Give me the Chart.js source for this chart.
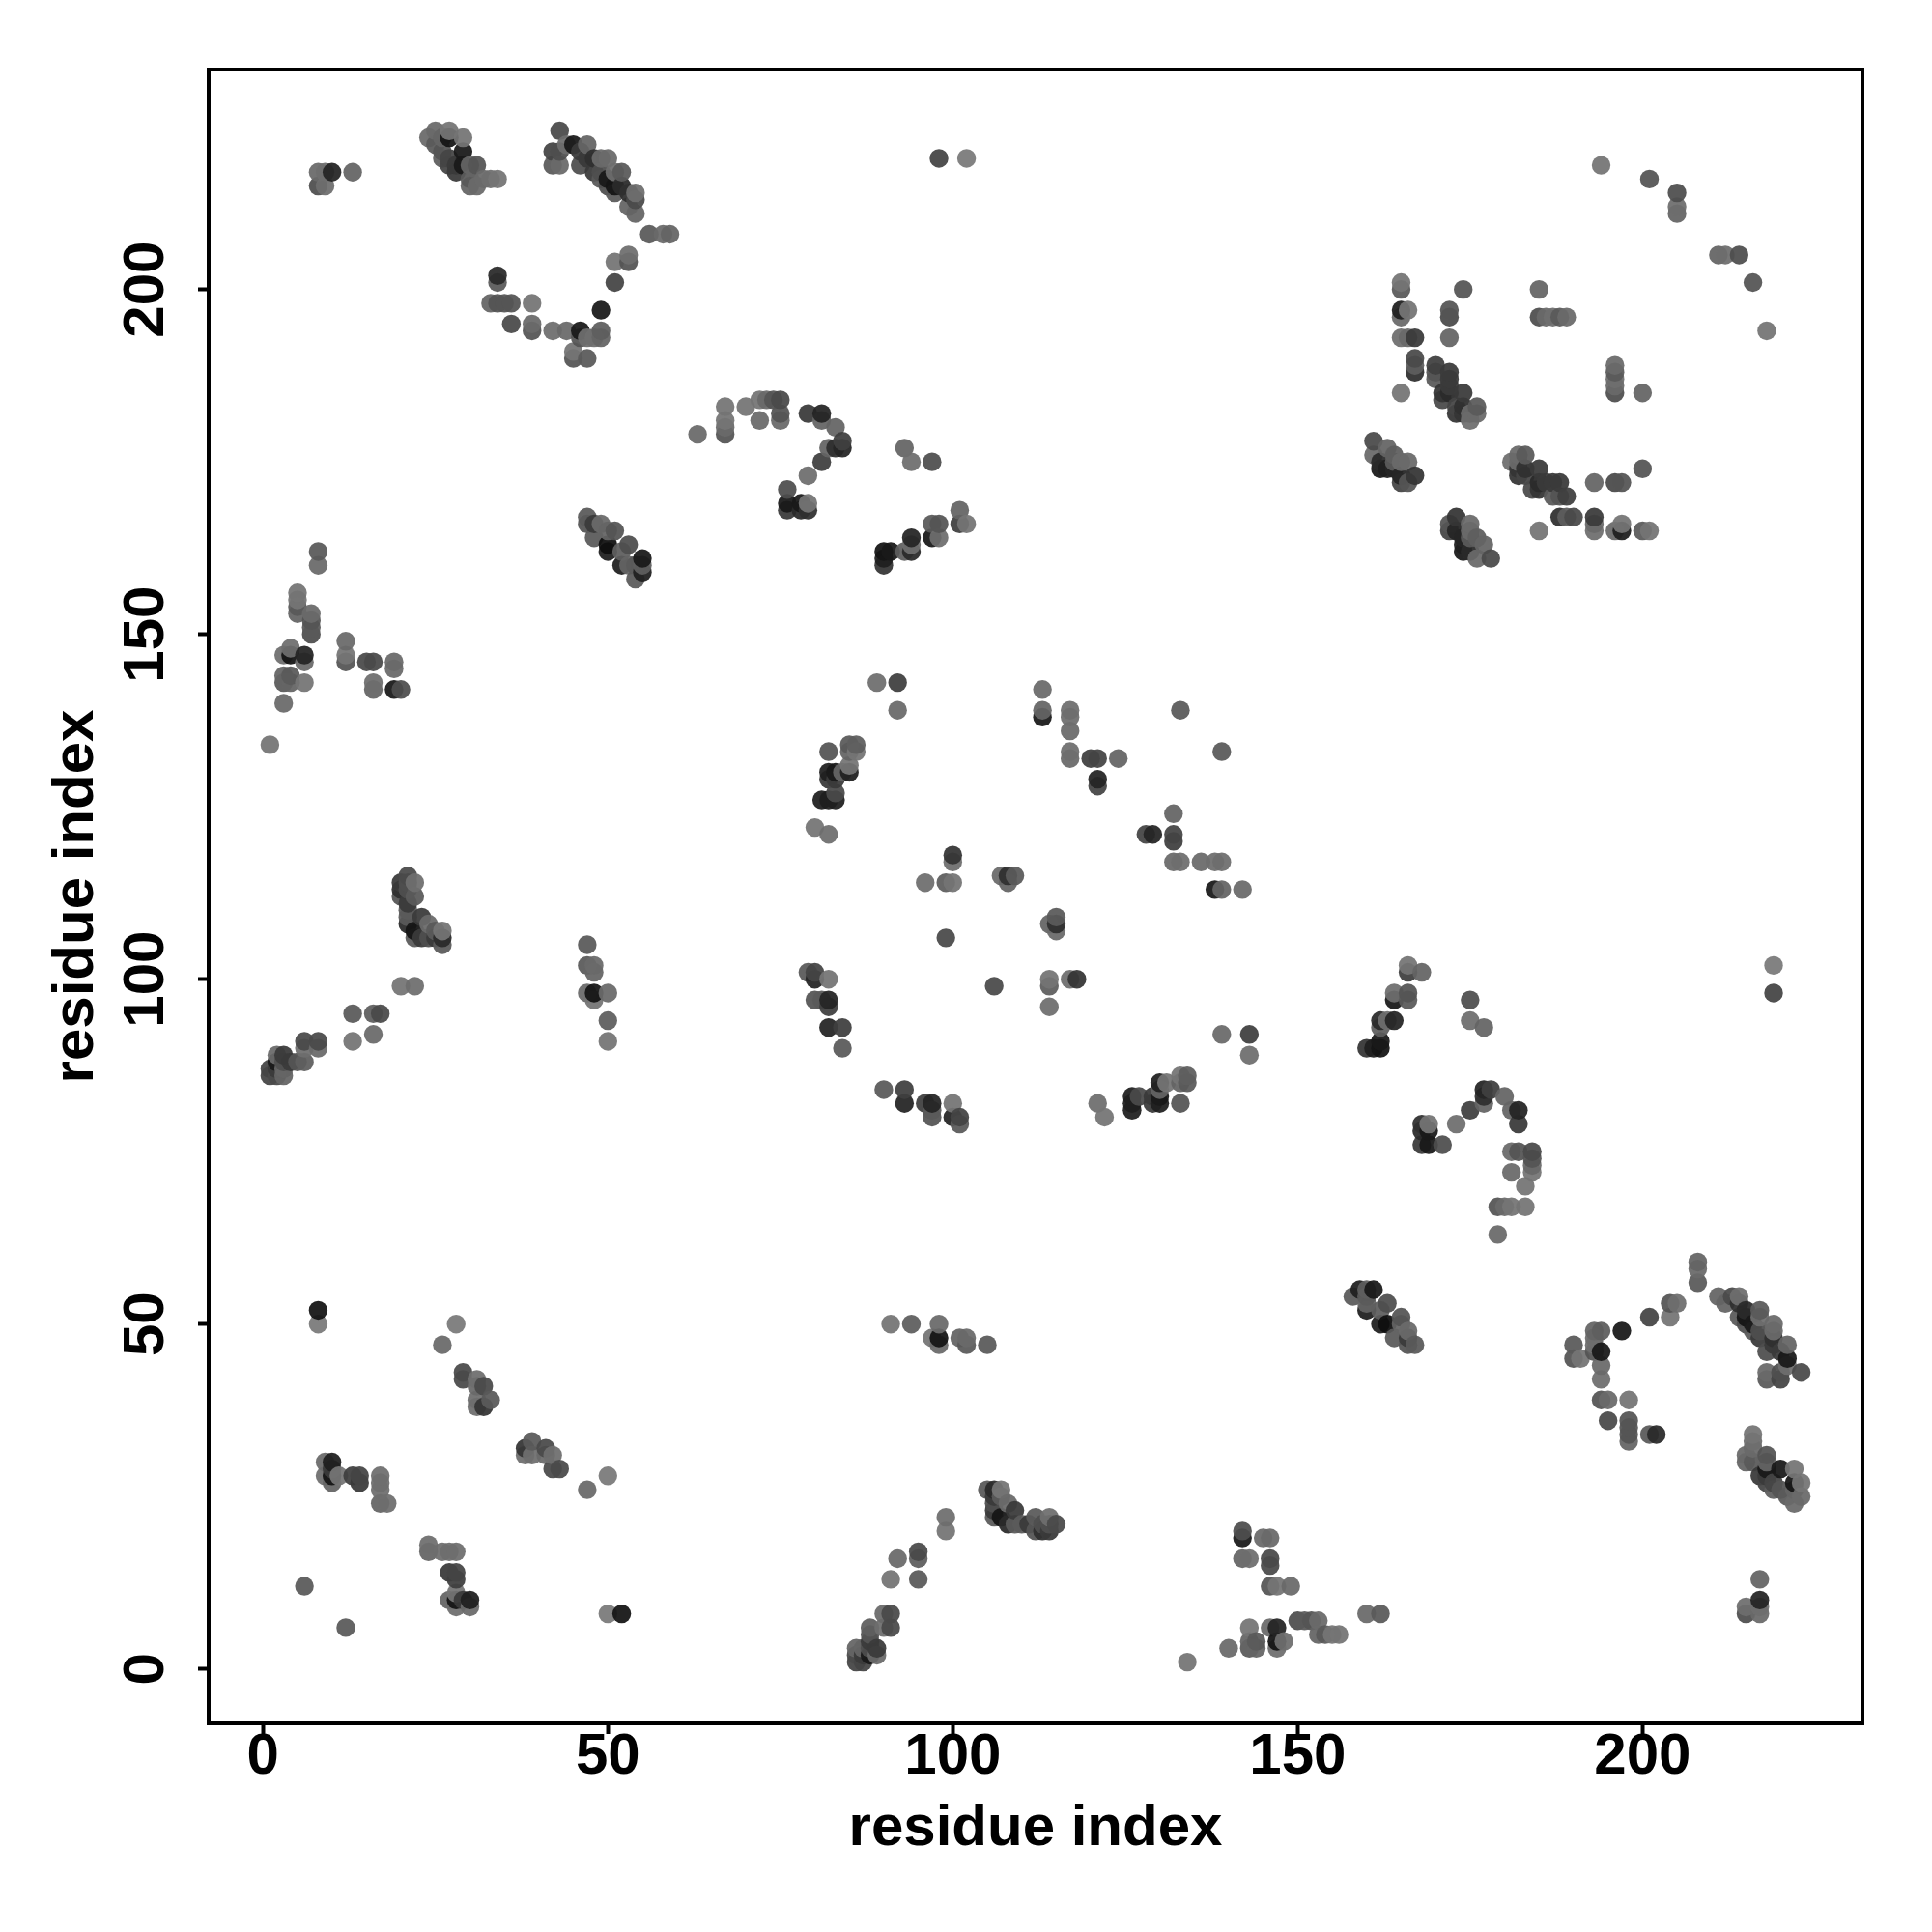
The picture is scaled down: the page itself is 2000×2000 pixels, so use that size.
<!DOCTYPE html>
<html>
<head>
<meta charset="utf-8">
<title>residue contact map</title>
<script src="https://cdn.jsdelivr.net/npm/chart.js@4"></script>
<style>
  html, body { margin: 0; padding: 0; background: #fff; }
  canvas { display: block; }
</style>
</head>
<body>
<canvas id="contactMap" width="2000" height="2000"></canvas>
<script>
// contacts, one line per group of points
const upperX = [
  1,3,3,3,3,4,4,4,4,5,5,5,5,6,6,6,7,7,7,7,8,8,12,12,12,15,16,16,16,19,19,19,20,
  8,8,9,9,10,13,
  24,25,25,26,26,26,27,27,27,27,28,28,29,29,29,30,30,30,31,31,32,33,34,
  42,42,43,43,43,44,45,46,46,47,47,48,48,49,49,49,50,50,50,51,51,51,52,52,53,53,54,54,54,
  33,34,34,34,35,36,36,39,39,39,42,44,45,45,46,46,47,47,48,49,49,49,51,51,53,53,56,58,59,
  47,47,48,48,49,50,50,50,51,52,52,53,53,54,54,55,55,55,
  63,67,67,67,67,70,72,72,73,74,75,75,75,76,76,76,78,78,79,79,79,79,81,81,81,82,83,83,84,84,90,90,90,91,93,93,94,94,94,94,97,97,97,98,98,98,101,101,102,102,
  1,1,2,2,2,2,3,3,3,3,4,5,6,6,6,8,8,13,13,16,16,17,20,22,
  20,20,20,21,21,21,21,21,21,21,22,22,22,22,23,23,24,24,25,25,26,26,26,
  47,47,47,48,48,48,48,50,50,50,
  79,80,80,80,80,81,81,82,82,82,82,82,82,82,82,82,83,83,83,83,84,84,84,85,85,85,85,86,86,89,92,92,96,99,99,100,100,100,107,108,108,109,113,113,113,117,117,117,117,117,120,121,121,121,124,133,
  6,8,8,9,9,10,10,10,10,11,13,14,14,17,17,17,17,18,26,28,29,29,31,31,31,31,32,32,33,
  161,161,162,162,163,163,164,164,164,165,165,165,166,166,167,
  165,165,165,165,165,165,166,166,167,167,167,167,170,170,170,171,171,172,172,172,172,172,172,172,173,173,174,174,174,174,175,175,176,176,185,185,186,187,188,189,194,201,205,205,205
];
const upperY = [
  134,140,143,144,147,143,144,147,148,153,154,155,156,143,146,147,150,151,152,153,160,162,146,147,149,146,142,143,146,142,145,146,142,
  215,217,215,217,217,217,
  222,221,223,219,220,222,218,219,222,223,217,218,218,220,222,215,216,218,215,218,216,216,216,
  218,220,218,220,223,221,221,218,220,219,221,217,219,216,217,219,215,216,219,214,215,217,215,217,212,214,211,213,214,
  198,198,201,202,198,195,198,194,195,198,194,194,190,191,193,194,190,193,193,193,194,197,201,204,204,205,208,208,208,
  166,167,164,166,166,162,163,165,165,160,162,160,163,158,160,159,160,161,
  179,179,180,181,183,183,181,184,184,184,181,182,184,168,169,171,168,169,168,169,173,182,175,181,182,177,177,180,177,178,160,161,162,162,162,177,162,163,164,175,164,166,175,164,166,219,166,168,166,219,
  86,87,86,87,88,89,86,87,88,89,88,88,88,90,91,90,91,91,95,92,95,95,99,99,
  112,113,114,108,109,110,111,113,114,115,106,107,112,114,106,109,106,108,106,107,105,106,107,
  98,102,105,97,98,101,102,91,94,98,
  101,97,100,101,122,97,126,93,96,97,100,121,126,129,130,133,126,127,129,130,90,93,130,130,131,133,134,133,134,143,139,143,114,106,114,114,117,118,115,114,115,115,138,139,142,132,133,136,138,139,132,128,129,132,132,139,
  12,50,52,28,30,27,28,29,30,28,28,27,28,24,26,27,28,24,47,50,42,43,38,39,41,42,38,41,39,
  176,178,174,175,174,177,174,175,176,172,173,175,172,175,173,
  185,193,196,197,200,201,193,197,188,189,190,193,187,188,189,184,185,185,186,187,188,193,196,197,182,183,182,183,185,200,181,182,182,183,196,200,196,196,196,196,218,216,211,212,214
];
const upperShade = [
  115,105,90,100,110,100,90,25,110,100,90,115,115,115,105,40,80,90,85,105,105,90,85,115,105,75,100,110,75,30,105,105,80,
  80,105,110,110,40,100,
  105,90,105,95,85,100,70,70,25,115,60,60,30,30,115,100,90,100,105,85,105,110,115,
  90,70,105,80,75,110,30,80,60,60,100,60,50,90,80,105,80,30,105,90,25,110,45,90,100,50,100,75,110,
  100,85,90,45,85,75,85,85,105,115,110,105,85,115,85,30,90,110,110,100,95,30,70,115,85,110,90,105,100,
  85,90,90,60,105,35,20,100,85,35,95,100,80,90,90,35,95,30,
  105,85,105,115,115,115,105,115,105,85,105,85,75,60,30,80,45,30,50,115,110,60,65,100,40,100,50,100,40,65,55,35,25,30,95,100,45,110,40,110,30,90,80,110,85,70,65,100,115,120,
  70,70,75,60,30,105,100,100,80,60,60,85,95,110,75,105,75,115,90,105,95,75,115,110,
  85,50,60,45,90,90,60,80,80,75,90,25,90,110,60,60,80,105,60,90,90,45,115,
  105,90,90,115,25,100,105,115,95,105,
  90,85,40,70,115,90,35,40,65,40,115,110,35,60,35,85,35,75,60,30,90,65,100,35,115,100,90,115,95,110,105,65,110,75,95,115,110,55,105,100,50,90,30,100,105,105,110,105,110,110,65,70,40,70,100,90,
  90,120,25,110,105,100,25,60,35,115,65,60,70,100,110,110,110,110,105,120,75,75,110,110,105,110,55,75,90,
  105,75,30,45,35,100,40,90,95,70,40,105,85,105,55,
  115,110,105,35,90,115,105,115,50,95,75,60,90,85,65,75,55,45,60,60,60,100,75,85,55,70,55,50,60,85,110,105,105,90,80,100,105,110,90,105,115,85,100,110,80
];
const lowerX = [
  134,140,143,144,147,143,144,147,148,153,154,155,156,143,146,147,150,151,152,153,160,162,146,147,149,146,142,143,146,142,145,146,142,
  215,217,215,217,217,217,
  222,221,223,219,220,222,218,219,222,223,217,218,218,220,222,215,216,218,215,218,216,216,216,
  218,220,218,220,223,221,221,218,220,219,221,217,219,216,217,219,215,216,219,214,215,217,215,217,212,214,211,213,214,
  198,198,201,202,198,195,198,194,195,198,194,194,190,191,193,194,190,193,193,193,194,197,201,204,204,205,208,208,208,
  166,167,164,166,166,162,163,165,165,160,162,160,163,158,160,159,160,161,
  179,179,180,181,183,183,181,184,184,184,181,182,184,168,169,171,168,169,168,169,173,182,175,181,182,177,177,180,177,178,160,161,162,162,162,177,162,163,164,175,164,166,175,164,166,219,166,168,166,219,
  86,87,86,87,88,89,86,87,88,89,88,88,88,90,91,90,91,91,95,92,95,95,99,99,
  112,113,114,108,109,110,111,113,114,115,106,107,112,114,106,109,106,108,106,107,105,106,107,
  98,102,105,97,98,101,102,91,94,98,
  101,97,100,101,122,97,126,93,96,97,100,121,126,129,130,133,126,127,129,130,90,93,130,130,131,133,134,133,134,143,139,143,114,106,114,114,117,118,115,114,115,115,138,139,142,132,133,136,138,139,132,128,129,132,132,139,
  12,50,52,28,30,27,28,29,30,28,28,27,28,24,26,27,28,24,47,50,42,43,38,39,41,42,38,41,39,
  176,178,174,175,174,177,174,175,176,172,173,175,172,175,173,
  185,193,196,197,200,201,193,197,188,189,190,193,187,188,189,184,185,185,186,187,188,193,196,197,182,183,182,183,185,200,181,182,182,183,196,200,196,196,196,196,218,216,211,212,214
];
const lowerY = [
  1,3,3,3,3,4,4,4,4,5,5,5,5,6,6,6,7,7,7,7,8,8,12,12,12,15,16,16,16,19,19,19,20,
  8,8,9,9,10,13,
  24,25,25,26,26,26,27,27,27,27,28,28,29,29,29,30,30,30,31,31,32,33,34,
  42,42,43,43,43,44,45,46,46,47,47,48,48,49,49,49,50,50,50,51,51,51,52,52,53,53,54,54,54,
  33,34,34,34,35,36,36,39,39,39,42,44,45,45,46,46,47,47,48,49,49,49,51,51,53,53,56,58,59,
  47,47,48,48,49,50,50,50,51,52,52,53,53,54,54,55,55,55,
  63,67,67,67,67,70,72,72,73,74,75,75,75,76,76,76,78,78,79,79,79,79,81,81,81,82,83,83,84,84,90,90,90,91,93,93,94,94,94,94,97,97,97,98,98,98,101,101,102,102,
  1,1,2,2,2,2,3,3,3,3,4,5,6,6,6,8,8,13,13,16,16,17,20,22,
  20,20,20,21,21,21,21,21,21,21,22,22,22,22,23,23,24,24,25,25,26,26,26,
  47,47,47,48,48,48,48,50,50,50,
  79,80,80,80,80,81,81,82,82,82,82,82,82,82,82,82,83,83,83,83,84,84,84,85,85,85,85,86,86,89,92,92,96,99,99,100,100,100,107,108,108,109,113,113,113,117,117,117,117,117,120,121,121,121,124,133,
  6,8,8,9,9,10,10,10,10,11,13,14,14,17,17,17,17,18,26,28,29,29,31,31,31,31,32,32,33,
  161,161,162,162,163,163,164,164,164,165,165,165,166,166,167,
  165,165,165,165,165,165,166,166,167,167,167,167,170,170,170,171,171,172,172,172,172,172,172,172,173,173,174,174,174,174,175,175,176,176,185,185,186,187,188,189,194,201,205,205,205
];
const lowerShade = [
  115,105,90,100,110,100,90,25,110,100,90,115,115,115,105,40,80,90,85,105,105,90,85,115,105,75,100,110,75,30,105,105,80,
  80,105,110,110,40,100,
  105,90,105,95,85,100,70,70,25,115,60,60,30,30,115,100,90,100,105,85,105,110,115,
  90,70,105,80,75,110,30,80,60,60,100,60,50,90,80,105,80,30,105,90,25,110,45,90,100,50,100,75,110,
  100,85,90,45,85,75,85,85,105,115,110,105,85,115,85,30,90,110,110,100,95,30,70,115,85,110,90,105,100,
  85,90,90,60,105,35,20,100,85,35,95,100,80,90,90,35,95,30,
  105,85,105,115,115,115,105,115,105,85,105,85,75,60,30,80,45,30,50,115,110,60,65,100,40,100,50,100,40,65,55,35,25,30,95,100,45,110,40,110,30,90,80,110,85,70,65,100,115,120,
  70,70,75,60,30,105,100,100,80,60,60,85,95,110,75,105,75,115,90,105,95,75,115,110,
  85,50,60,45,90,90,60,80,80,75,90,25,90,110,60,60,80,105,60,90,90,45,115,
  105,90,90,115,25,100,105,115,95,105,
  90,85,40,70,115,90,35,40,65,40,115,110,35,60,35,85,35,75,60,30,90,65,100,35,115,100,90,115,95,110,105,65,110,75,95,115,110,55,105,100,50,90,30,100,105,105,110,105,110,110,65,70,40,70,100,90,
  90,120,25,110,105,100,25,60,35,115,65,60,70,100,110,110,110,110,105,120,75,75,110,110,105,110,55,75,90,
  105,75,30,45,35,100,40,90,95,70,40,105,85,105,55,
  115,110,105,35,90,115,105,115,50,95,75,60,90,85,65,75,55,45,60,60,60,100,75,85,55,70,55,50,60,85,110,105,105,90,80,100,105,110,90,105,115,85,100,110,80
];
const tickValues = [0, 50, 100, 150, 200];
const axisLabel = "residue index";

// painted in residue order so later dots sit on top of earlier ones
const xs = upperX.concat(lowerX);
const ys = upperY.concat(lowerY);
const shades = upperShade.concat(lowerShade);
const order = xs.map((_, i) => i).sort((a, b) => xs[a] - xs[b] || ys[a] - ys[b]);
const points = order.map(i => ({ x: xs[i], y: ys[i] }));

// shade is the grey a lone dot shows on white; dots are slightly see-through
const dotAlpha = 0.94;
const colors = order.map(i => {
  const g = Math.max(0, Math.round((shades[i] + 10 - 255 * (1 - dotAlpha)) / dotAlpha));
  return `rgba(${g},${g},${g},${dotAlpha})`;
});

const frame = {
  id: "frame",
  afterDraw(chart) {
    const { ctx, chartArea: a } = chart;
    ctx.save();
    ctx.strokeStyle = "#000";
    ctx.lineWidth = 4;
    ctx.strokeRect(a.left, a.top, a.right - a.left, a.bottom - a.top);
    ctx.restore();
  }
};

const axisFont = { family: "'Liberation Sans'", size: 60, weight: "bold" };

function axis(size, tickPadding, titlePadding, rotation) {
  return {
    type: "linear",
    min: -7.88,
    max: 231.88,
    afterBuildTicks(scale) { scale.ticks = tickValues.map(v => ({ value: v })); },
    afterFit(scale) {
      if (scale.isHorizontal()) scale.height = size;
      else scale.width = size;
    },
    border: { display: false },
    grid: {
      drawOnChartArea: false,
      drawTicks: true,
      tickLength: 11,
      tickWidth: 4,
      tickColor: "#000"
    },
    ticks: {
      color: "#000",
      font: axisFont,
      padding: tickPadding,
      minRotation: rotation,
      maxRotation: rotation,
      crossAlign: "center",
      autoSkip: false
    },
    title: {
      display: true,
      text: axisLabel,
      color: "#000",
      font: axisFont,
      padding: titlePadding
    }
  };
}

new Chart(document.getElementById("contactMap").getContext("2d"), {
  type: "scatter",
  data: {
    datasets: [{
      data: points,
      pointBackgroundColor: colors,
      pointBorderWidth: 0,
      pointRadius: 9.7
    }]
  },
  plugins: [frame],
  options: {
    responsive: false,
    devicePixelRatio: 1,
    animation: false,
    layout: { padding: { top: 72, right: 72 } },
    plugins: { legend: { display: false }, tooltip: { enabled: false } },
    scales: {
      x: axis(216, 24, { top: 0, bottom: 71 }, 0),
      y: axis(216, 2, { top: 43, bottom: 0 }, 90)
    }
  }
});
</script>
</body>
</html>
